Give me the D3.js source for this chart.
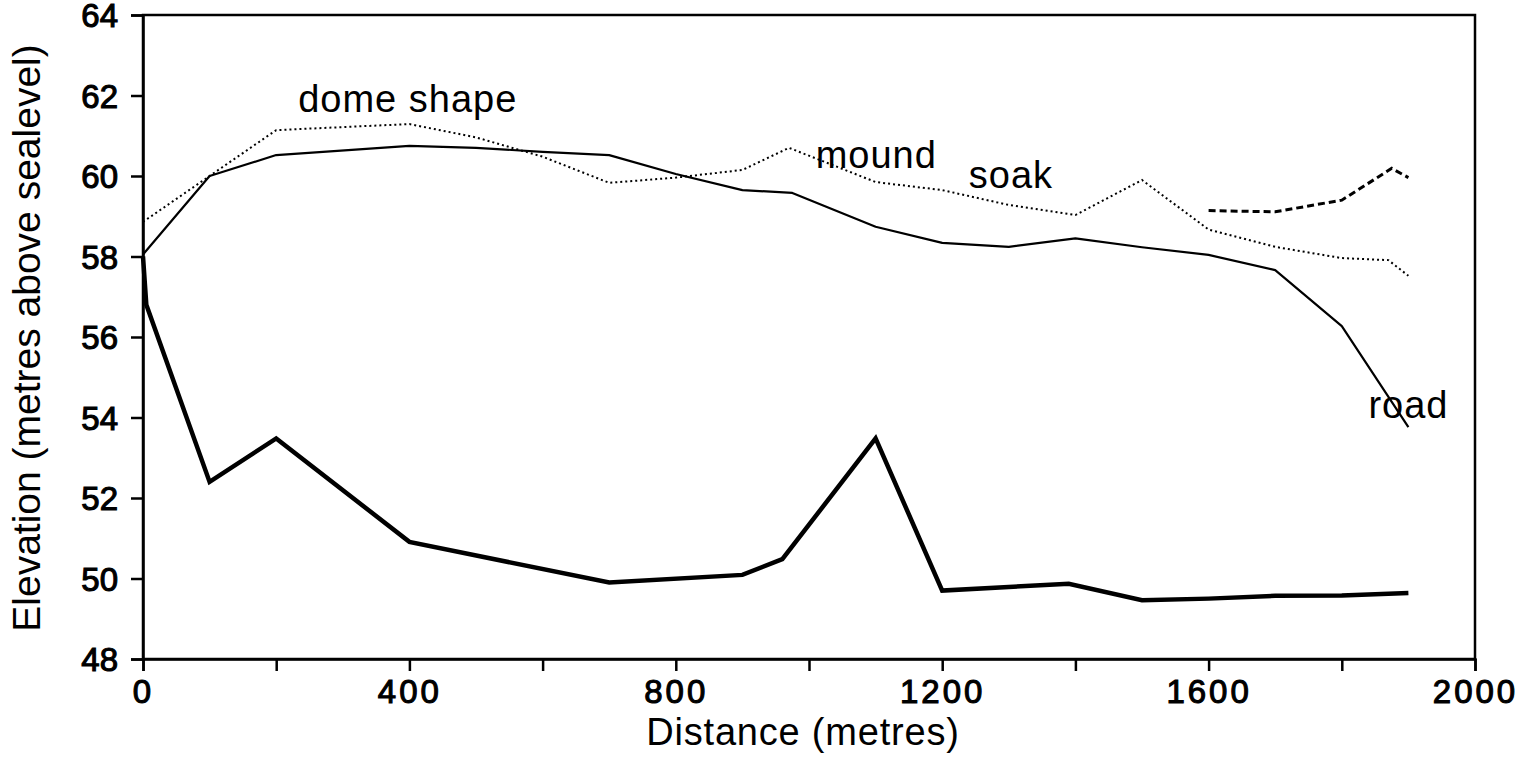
<!DOCTYPE html>
<html>
<head>
<meta charset="utf-8">
<script src="https://cdn.jsdelivr.net/npm/d3@7"></script>
<style>
  body { margin: 0; background: #fff; }
  svg { display: block; }
  text { font-family: "Liberation Sans", Arial, sans-serif; fill: #000; }
</style>
</head>
<body>
<svg width="1523" height="774"></svg>
<script>
// distances (metres) and elevations

// thin solid line (ends at "road")
var roadDist = [0, 100, 200, 400, 500, 600, 700, 800, 900, 975, 1100, 1200, 1300, 1400, 1500, 1600, 1700, 1800, 1900];
var roadElev = [58.05, 60.0, 60.52, 60.75, 60.7, 60.6, 60.52, 60.05, 59.65, 59.58, 58.74, 58.34, 58.24, 58.45, 58.23, 58.04, 57.66, 56.27, 53.76];

// dotted line (dome shape, mound, soak)
var dotDist = [0, 100, 200, 400, 500, 600, 700, 800, 900, 970, 1100, 1200, 1300, 1400, 1500, 1600, 1700, 1800, 1870, 1900];
var dotElev = [58.86, 60.0, 61.14, 61.29, 60.96, 60.48, 59.83, 59.96, 60.15, 60.7, 59.85, 59.65, 59.28, 59.03, 59.9, 58.67, 58.24, 57.96, 57.91, 57.52];

// dashed piece at the right
var dashDist = [1600, 1700, 1800, 1875, 1900];
var dashElev = [59.14, 59.11, 59.4, 60.19, 59.96];

// thick bottom line
var lowDist = [0, 5, 100, 200, 400, 700, 900, 960, 1100, 1200, 1390, 1500, 1600, 1700, 1800, 1900];
var lowElev = [58.0, 56.8, 52.4, 53.48, 50.91, 49.9, 50.09, 50.48, 53.48, 49.7, 49.87, 49.46, 49.5, 49.57, 49.58, 49.64];

var xTicks = [0, 200, 400, 600, 800, 1000, 1200, 1400, 1600, 1800, 2000];
var yTicks = [48, 50, 52, 54, 56, 58, 60, 62, 64];

var labels = [
  {text: "dome shape", d: 233, v: 61.6},
  {text: "mound", d: 1010, v: 60.2},
  {text: "soak", d: 1240, v: 59.7},
  {text: "road", d: 1840, v: 54.0}
];

var svg = d3.select("svg"),
    x0 = 143, x1 = 1475, y0 = 659, y1 = 15;

var x = d3.scaleLinear().domain([0, 2000]).range([x0, x1]);
var y = d3.scaleLinear().domain([48, 64]).range([y0, y1]);

// frame
svg.append("rect")
    .attr("x", x0).attr("y", y1)
    .attr("width", x1 - x0).attr("height", y0 - y1)
    .attr("fill", "none").attr("stroke", "#000").attr("stroke-width", 2.5);

var xAxis = svg.append("g")
    .attr("transform", "translate(0," + y0 + ")")
    .call(d3.axisBottom(x).tickValues(xTicks).tickSize(12).tickPadding(9)
      .tickFormat(function(d) { return d % 400 === 0 ? d : ""; }));
xAxis.select(".domain").attr("stroke-width", 2.5);
xAxis.selectAll(".tick line").attr("stroke-width", 2.5);
xAxis.selectAll("text")
    .style("font-size", "33px")
    .style("letter-spacing", "3px")
    .attr("stroke", "#000").attr("stroke-width", 1.1)
    .attr("dy", "0.7em");

var yAxis = svg.append("g")
    .attr("transform", "translate(" + x0 + ",0)")
    .call(d3.axisLeft(y).tickValues(yTicks).tickSize(12).tickPadding(13));
yAxis.select(".domain").attr("stroke-width", 2.5);
yAxis.selectAll(".tick line").attr("stroke-width", 2.5);
yAxis.selectAll("text")
    .style("font-size", "33px")
    .attr("stroke", "#000").attr("stroke-width", 1.1)
    .attr("dy", "0.36em");

// axis titles
svg.append("text")
    .attr("x", (x0 + x1) / 2 - 6).attr("y", 745)
    .attr("text-anchor", "middle")
    .style("font-size", "38px")
    .style("letter-spacing", "0.8px")
    .text("Distance (metres)");

svg.append("text")
    .attr("transform", "translate(40,338) rotate(-90)")
    .attr("text-anchor", "middle")
    .style("font-size", "39px")
    .text("Elevation (metres above sealevel)");

var line = d3.line()
    .x(function(d) { return x(d[0]); })
    .y(function(d) { return y(d[1]); });

function pairs(a, b) { return a.map(function(d, i) { return [d, b[i]]; }); }

svg.append("path")
    .datum(pairs(roadDist, roadElev))
    .attr("d", line)
    .attr("fill", "none").attr("stroke", "#000").attr("stroke-width", 2.2)
    .attr("stroke-linejoin", "round");

svg.append("path")
    .datum(pairs(dotDist, dotElev))
    .attr("d", line)
    .attr("fill", "none").attr("stroke", "#000").attr("stroke-width", 2)
    .attr("stroke-dasharray", "2,3");

svg.append("path")
    .datum(pairs(dashDist, dashElev))
    .attr("d", line)
    .attr("fill", "none").attr("stroke", "#000").attr("stroke-width", 3)
    .attr("stroke-dasharray", "7,4");

svg.append("path")
    .datum(pairs(lowDist, lowElev))
    .attr("d", line)
    .attr("fill", "none").attr("stroke", "#000").attr("stroke-width", 4.5)
    .attr("stroke-linejoin", "miter");

// annotations
svg.selectAll(".note")
    .data(labels)
    .enter().append("text")
    .attr("class", "note")
    .attr("x", function(d) { return x(d.d); })
    .attr("y", function(d) { return y(d.v); })
    .style("font-size", "38px")
    .style("letter-spacing", "1px")
    .text(function(d) { return d.text; });
</script>
</body>
</html>
